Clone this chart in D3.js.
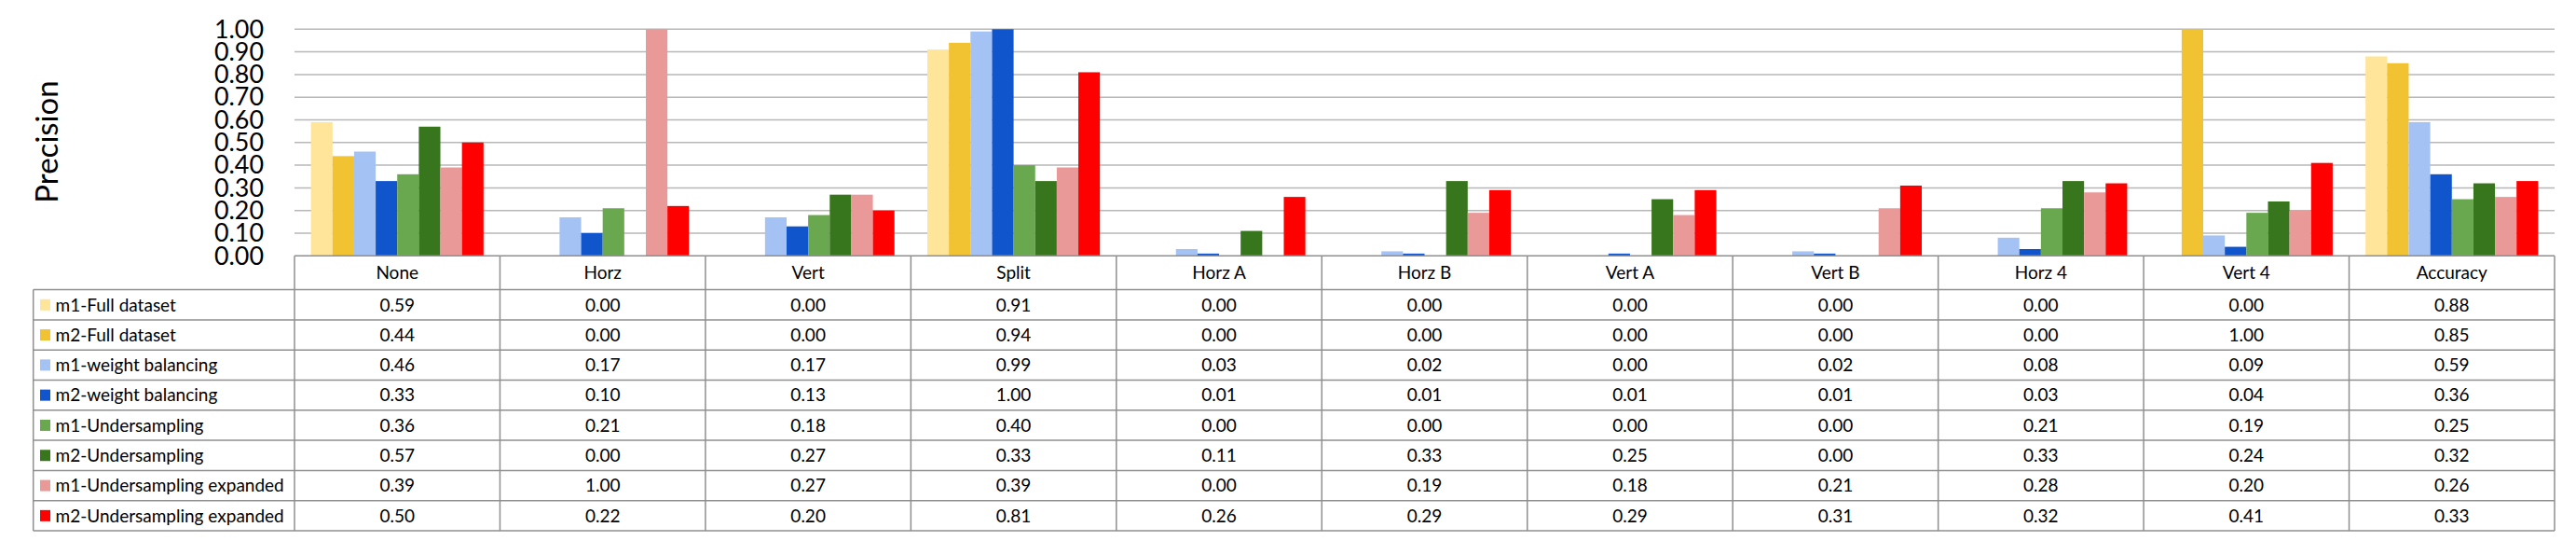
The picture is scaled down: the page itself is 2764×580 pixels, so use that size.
<!DOCTYPE html>
<html>
<head>
<meta charset="utf-8">
<script src="https://cdn.jsdelivr.net/npm/d3@7"></script>
<style>
  body { margin: 0; background: #fff; }
  svg { display: block; font-family: Lato, "Open Sans", sans-serif; }
</style>
</head>
<body>
<svg id="chart" width="2764" height="580"></svg>
<script>
const categories = ["None", "Horz", "Vert", "Split", "Horz A", "Horz B", "Vert A", "Vert B", "Horz 4", "Vert 4", "Accuracy"];

const seriesNames = [
  "m1-Full dataset", "m2-Full dataset",
  "m1-weight balancing", "m2-weight balancing",
  "m1-Undersampling", "m2-Undersampling",
  "m1-Undersampling expanded", "m2-Undersampling expanded"
];

const m1Full      = [0.59, 0.00, 0.00, 0.91, 0.00, 0.00, 0.00, 0.00, 0.00, 0.00, 0.88];
const m2Full      = [0.44, 0.00, 0.00, 0.94, 0.00, 0.00, 0.00, 0.00, 0.00, 1.00, 0.85];
const m1Weight    = [0.46, 0.17, 0.17, 0.99, 0.03, 0.02, 0.00, 0.02, 0.08, 0.09, 0.59];
const m2Weight    = [0.33, 0.10, 0.13, 1.00, 0.01, 0.01, 0.01, 0.01, 0.03, 0.04, 0.36];
const m1Under     = [0.36, 0.21, 0.18, 0.40, 0.00, 0.00, 0.00, 0.00, 0.21, 0.19, 0.25];
const m2Under     = [0.57, 0.00, 0.27, 0.33, 0.11, 0.33, 0.25, 0.00, 0.33, 0.24, 0.32];
const m1UnderExp  = [0.39, 1.00, 0.27, 0.39, 0.00, 0.19, 0.18, 0.21, 0.28, 0.20, 0.26];
const m2UnderExp  = [0.50, 0.22, 0.20, 0.81, 0.26, 0.29, 0.29, 0.31, 0.32, 0.41, 0.33];

const yTicks = [0, 0.1, 0.2, 0.3, 0.4, 0.5, 0.6, 0.7, 0.8, 0.9, 1.0];

const COLORS = ["#FFE599", "#F1C232", "#A4C2F4", "#1155CC", "#6AA84F", "#38761D", "#EA9999", "#FF0000"];

const seriesValues = [m1Full, m2Full, m1Weight, m2Weight, m1Under, m2Under, m1UnderExp, m2UnderExp];

// layout
const ctx = {
  plotLeft: 316, plotRight: 2741,
  plotTop: 31.3, plotBottom: 274.3,
  tableLeft: 35.7, headerBottom: 310.6, rowH: 32.3,
  GRID: "#b7b7b7", LINE: "#8f8f8f"
};

const svg = d3.select("#chart");
svg.append("rect").attr("width", 2764).attr("height", 580).attr("fill", "#fff");

const x0 = d3.scaleBand()
             .domain(categories)
             .range([ctx.plotLeft, ctx.plotRight])
             .paddingInner(0).paddingOuter(0);

const bw = x0.bandwidth();
const x1 = d3.scaleBand()
             .domain(d3.range(seriesNames.length))
             .range([bw * 0.08, bw * 0.92]);

const yScale = d3.scaleLinear()
                 .domain([0, 1])
                 .range([ctx.plotBottom, ctx.plotTop]);

// gridlines
svg.append("g").selectAll("line")
   .data(yTicks.slice(1))
   .enter().append("line")
   .attr("x1", ctx.plotLeft).attr("x2", ctx.plotRight)
   .attr("y1", d => yScale(d)).attr("y2", d => yScale(d))
   .attr("stroke", ctx.GRID).attr("stroke-width", 1.5);

// y axis labels
const yAxis = d3.axisLeft(yScale)
                .tickValues(yTicks)
                .tickSize(0)
                .tickPadding(0)
                .tickFormat(d3.format(".2f"));

svg.append("g")
   .attr("transform", "translate(283,0)")
   .call(yAxis)
   .call(g => g.select(".domain").remove())
   .call(g => g.selectAll(".tick text")
      .attr("fill", "#000")
      .style("font-family", "Lato, 'Open Sans', sans-serif")
      .style("font-size", "24px")
      .attr("transform", "scale(1.12,1.1)")
      .attr("x", 0)
      .attr("dy", "0.33em"));

svg.append("text")
   .attr("transform", "translate(50,152) rotate(-90)")
   .attr("text-anchor", "middle")
   .attr("dy", "0.36em")
   .style("font-size", "33px")
   .attr("fill", "#000")
   .text("Precision");

// bars
const groups = svg.append("g").selectAll("g")
   .data(categories)
   .enter().append("g")
   .attr("transform", d => "translate(" + x0(d) + ",0)");

groups.selectAll("rect")
   .data((c, ci) => seriesValues.map((vals, si) => ({si: si, v: vals[ci]})))
   .enter().append("rect")
   .attr("x", d => x1(d.si))
   .attr("width", x1.bandwidth())
   .attr("y", d => yScale(d.v))
   .attr("height", d => yScale(0) - yScale(d.v))
   .attr("fill", d => COLORS[d.si]);

// table
const tableBottom = ctx.headerBottom + ctx.rowH * seriesNames.length;
const table = svg.append("g");

// horizontal row lines
table.selectAll("line.row")
   .data(d3.range(seriesNames.length + 1))
   .enter().append("line")
   .attr("class", "row")
   .attr("x1", ctx.tableLeft).attr("x2", ctx.plotRight)
   .attr("y1", i => ctx.headerBottom + i * ctx.rowH)
   .attr("y2", i => ctx.headerBottom + i * ctx.rowH)
   .attr("stroke", ctx.LINE).attr("stroke-width", 1.5);

// vertical column lines
const colEdges = categories.map(c => x0(c)).concat([ctx.plotRight]);
table.selectAll("line.col")
   .data(colEdges)
   .enter().append("line")
   .attr("class", "col")
   .attr("x1", d => d).attr("x2", d => d)
   .attr("y1", ctx.plotBottom).attr("y2", tableBottom)
   .attr("stroke", ctx.LINE).attr("stroke-width", 1.5);

table.append("line")
   .attr("x1", ctx.tableLeft).attr("x2", ctx.tableLeft)
   .attr("y1", ctx.headerBottom).attr("y2", tableBottom)
   .attr("stroke", ctx.LINE).attr("stroke-width", 1.5);

// baseline of plot
svg.append("line")
   .attr("x1", ctx.plotLeft).attr("x2", ctx.plotRight)
   .attr("y1", yScale(0)).attr("y2", yScale(0))
   .attr("stroke", ctx.LINE).attr("stroke-width", 1.5);

// header labels
table.selectAll("text.cat")
   .data(categories)
   .enter().append("text")
   .attr("class", "cat")
   .attr("x", d => x0(d) + bw / 2)
   .attr("y", (ctx.plotBottom + ctx.headerBottom) / 2)
   .attr("dy", "0.36em")
   .attr("text-anchor", "middle")
   .style("font-size", "19px")
   .text(d => d);

// row labels with swatch
const rows = table.selectAll("g.rowlab")
   .data(seriesNames)
   .enter().append("g")
   .attr("class", "rowlab")
   .attr("transform", (d, i) => "translate(0," + (ctx.headerBottom + (i + 0.5) * ctx.rowH) + ")");

rows.append("rect")
   .attr("x", 43).attr("y", -6).attr("width", 11).attr("height", 12)
   .attr("fill", (d, i) => COLORS[i]);

rows.append("text")
   .attr("x", 59.5)
   .attr("dy", "0.36em")
   .style("font-size", "19px")
   .text(d => d);

// cell values
rows.each(function(name, si) {
  d3.select(this).selectAll("text.val")
    .data(seriesValues[si])
    .enter().append("text")
    .attr("class", "val")
    .attr("x", (v, ci) => x0(categories[ci]) + bw / 2)
    .attr("dy", "0.36em")
    .attr("text-anchor", "middle")
    .style("font-size", "19px")
    .text(v => d3.format(".2f")(v));
});
</script>
</body>
</html>
